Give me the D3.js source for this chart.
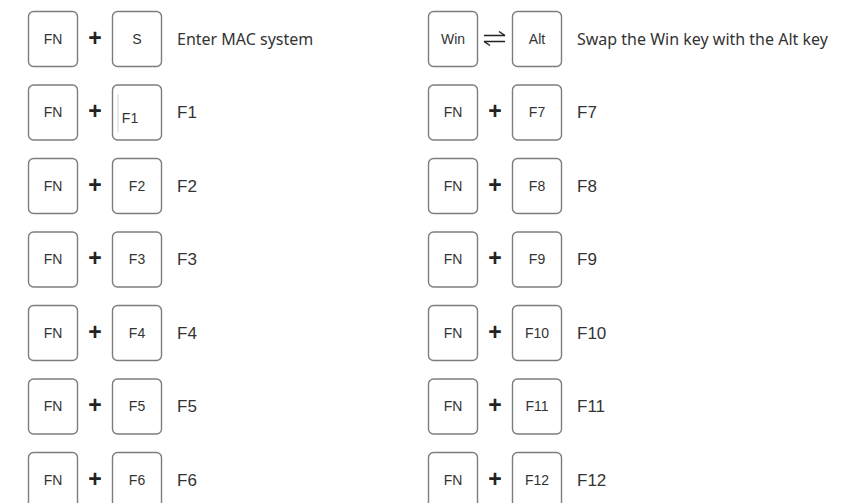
<!DOCTYPE html>
<html><head><meta charset="utf-8">
<script src="https://cdn.jsdelivr.net/npm/d3@7/dist/d3.min.js"></script>
<style>body{margin:0;background:#fff}svg{display:block}</style>
</head><body>
<script>
// Data
const leftMods   = ["FN","FN","FN","FN","FN","FN","FN"];
const leftOps    = ["+","+","+","+","+","+","+"];
const leftKeys   = ["S","F1","F2","F3","F4","F5","F6"];
const leftDescs  = ["Enter MAC system","F1","F2","F3","F4","F5","F6"];
const rightMods  = ["Win","FN","FN","FN","FN","FN","FN"];
const rightOps   = ["swap","+","+","+","+","+","+"];
const rightKeys  = ["Alt","F7","F8","F9","F10","F11","F12"];
const rightDescs = ["Swap the Win key with the Alt key","F7","F8","F9","F10","F11","F12"];

const W = 841, H = 503;
const svg = d3.select("body").append("svg").attr("width", W).attr("height", H);

const rows = d3.range(7);
const y = d3.scaleLinear().domain([0, 6]).range([11, 452]);
const keyW = 49, keyH = 55;
const colX = [28, 428];

const columns = [
  {x: colX[0], mods: leftMods, ops: leftOps, keys: leftKeys, descs: leftDescs},
  {x: colX[1], mods: rightMods, ops: rightOps, keys: rightKeys, descs: rightDescs}
];

const stroke = "#7d7d7d", ink = "#333";
const keyFont = "Liberation Sans, Arial, sans-serif";

columns.forEach((c, ci) => {
  const g = svg.append("g").attr("transform", `translate(${c.x},0)`);
  const rowG = g.selectAll("g.row").data(rows).join("g").attr("class", "row")
    .attr("transform", i => `translate(0,${y(i)})`);

  // modifier key
  rowG.append("rect").attr("x", 0.5).attr("y", 0.5).attr("width", keyW).attr("height", keyH)
    .attr("rx", 5).attr("fill", "#fff").attr("stroke", stroke).attr("stroke-width", 1.4);
  rowG.append("text").attr("x", keyW/2 + 0.5).attr("y", keyH/2 + 5)
    .attr("text-anchor", "middle").attr("font-family", keyFont).attr("font-size", 14)
    .attr("fill", ink).text(i => c.mods[i]);

  // second key
  const k2 = 84;
  rowG.append("rect").attr("x", k2 + 0.5).attr("y", 0.5).attr("width", keyW).attr("height", keyH)
    .attr("rx", 5).attr("fill", "#fff").attr("stroke", stroke).attr("stroke-width", 1.4);
  rowG.append("text")
    .attr("x", i => (ci === 0 && i === 1) ? k2 + 18 : k2 + keyW/2 + 0.5)
    .attr("y", i => (ci === 0 && i === 1) ? keyH/2 + 11 : keyH/2 + 5)
    .attr("text-anchor", "middle")
    .attr("font-family", keyFont).attr("font-size", 14)
    .attr("fill", ink).text(i => c.keys[i]);
  // faint inner line on the F1 key
  if (ci === 0) {
    rowG.filter(i => i === 1).append("line")
      .attr("x1", k2 + 6).attr("x2", k2 + 6).attr("y1", 10).attr("y2", 48)
      .attr("stroke", "#d0d0d0").attr("stroke-width", 1);
  }

  // operator
  rowG.filter(i => c.ops[i] === "+").append("text")
    .attr("x", 67).attr("y", keyH/2 + 7).attr("text-anchor", "middle")
    .attr("font-family", keyFont).attr("font-size", 23).attr("font-weight", "bold")
    .attr("fill", "#222").text(i => c.ops[i]);
  const sw = rowG.filter(i => c.ops[i] === "swap").append("g").attr("stroke", "#222")
    .attr("stroke-width", 1.5).attr("fill", "none");
  sw.append("path").attr("d", `M56,${keyH/2-3} H77 M77,${keyH/2-3} L71,${keyH/2-7}`);
  sw.append("path").attr("d", `M56,${keyH/2+3} H77 M56,${keyH/2+3} L62,${keyH/2+7}`);

  // description
  rowG.append("text").attr("x", 149).attr("y", keyH/2 + 6)
    .attr("font-family", i => i === 0 ? "Noto Sans, Open Sans, sans-serif" : keyFont)
    .attr("font-size", i => i === 0 ? 16 : 17).attr("fill", ink).text(i => c.descs[i]);
});
</script>
</body></html>
